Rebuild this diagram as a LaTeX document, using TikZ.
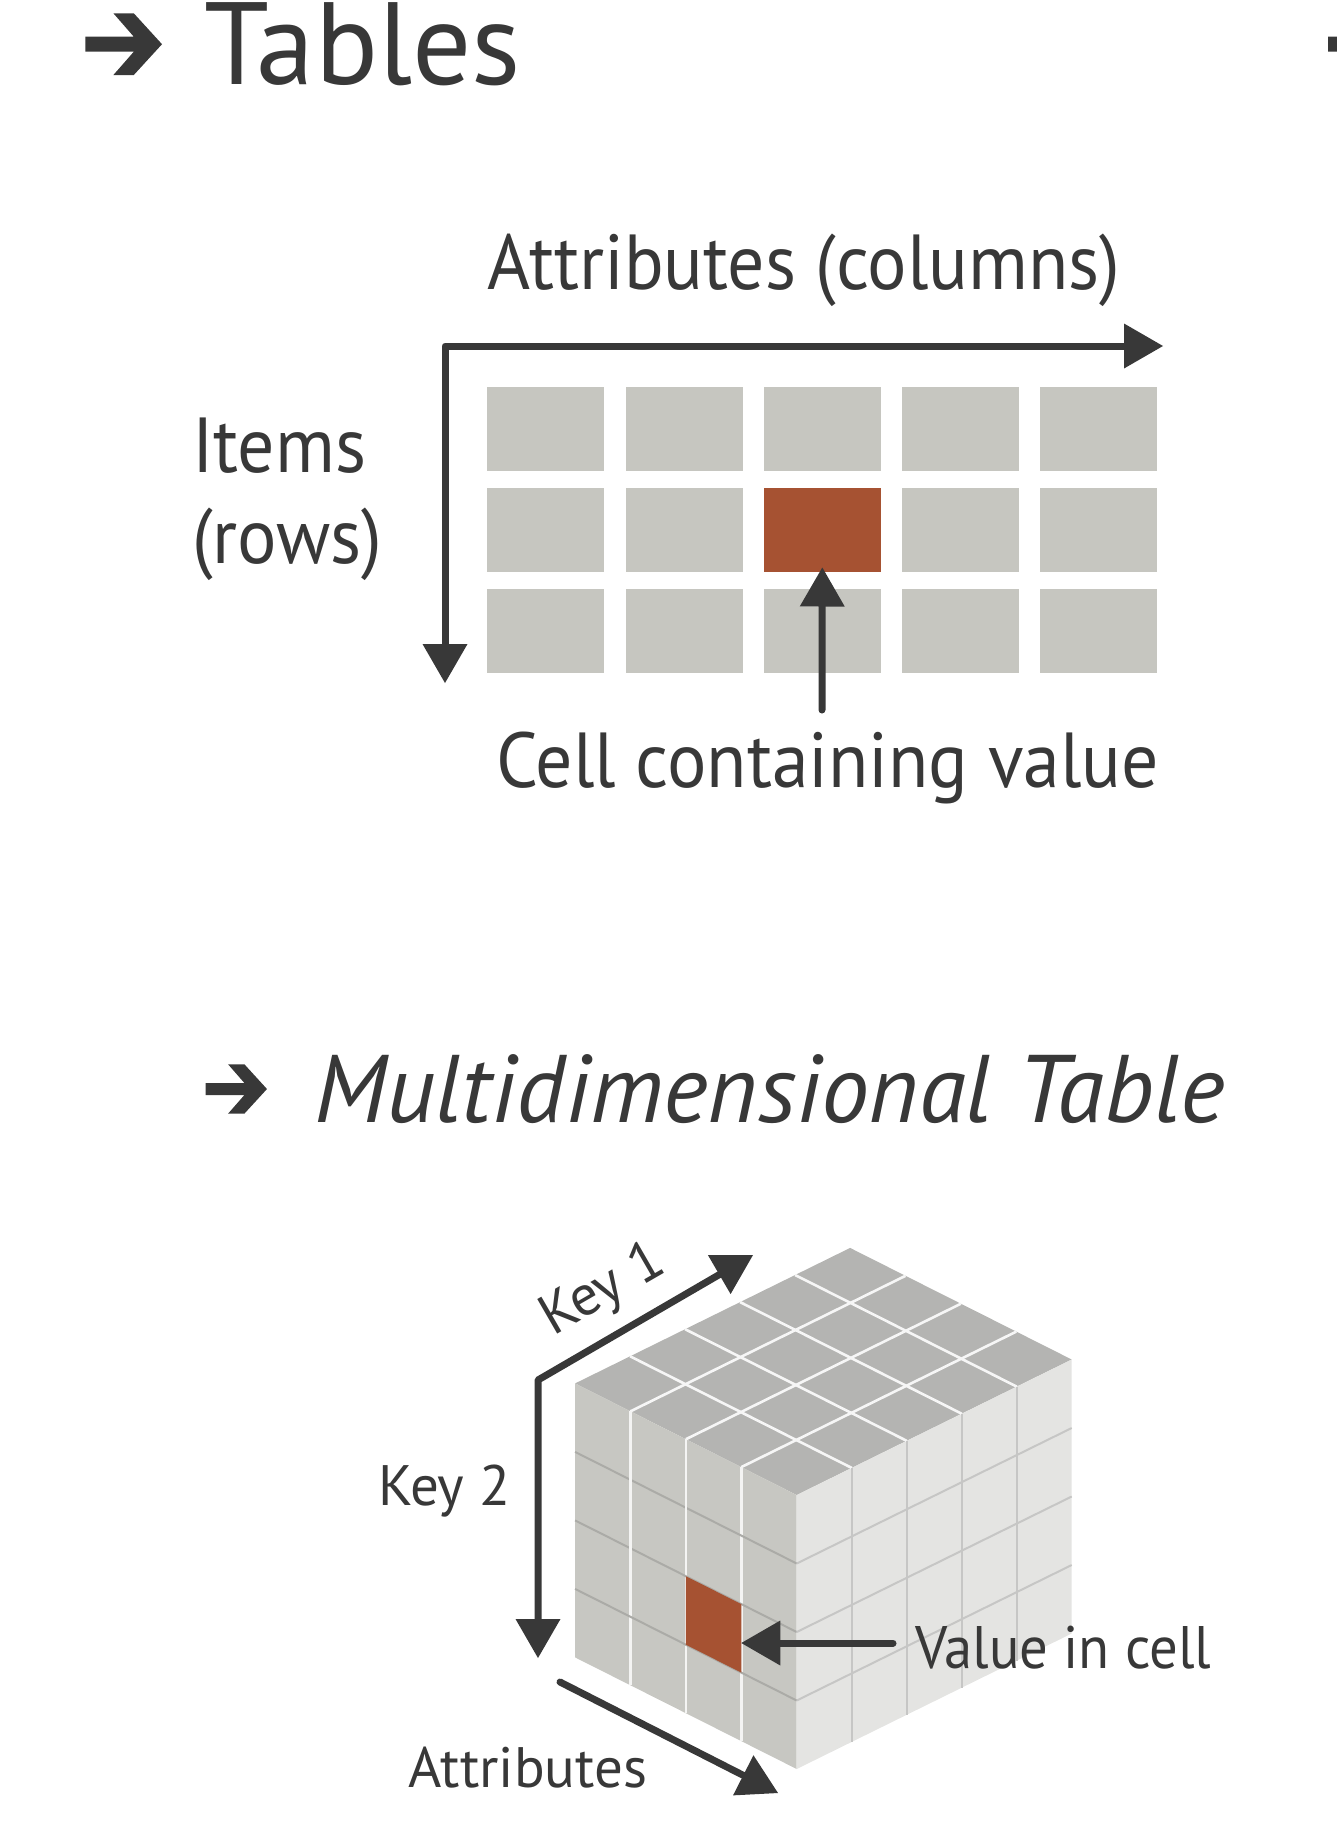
\documentclass[tikz,border=0pt]{standalone}
\usepackage{fontspec}
\setmainfont{PT Sans}
\newfontfamily\labelfont{PT Sans}[FakeStretch=0.945]
\usetikzlibrary{arrows.meta,matrix,positioning}
\definecolor{ink}{HTML}{383838}
\definecolor{cellgray}{HTML}{C6C6C0}
\definecolor{cellred}{HTML}{A65232}
\definecolor{cubetop}{HTML}{B4B4B2}
\definecolor{cubeleft}{HTML}{C7C7C2}
\definecolor{cuberight}{HTML}{E4E4E2}

\tikzset{
   bullet arrow/.pic={
      \fill[ink] (0,-7.5) -- (48.5,-7.5) -- (28.1,-30.9) -- (48.5,-30.9) -- (76.7,0)
         -- (48.5,30.8) -- (28.1,30.8) -- (48.5,7.5) -- (0,7.5) -- cycle;
   }
}

\begin{document}
\begin{tikzpicture}[
      x=1pt, y=-1pt,
      heading/.style={
         anchor=base west, inner sep=0pt, text=ink,
         font=\fontsize{117}{117}\selectfont
      },
      subheading/.style={
         anchor=base west, inner sep=0pt, text=ink,
         font=\fontsize{96}{96}\selectfont\itshape
      },
      label/.style={
         anchor=base west, inner sep=0pt, text=ink,
         font=\labelfont\fontsize{78}{78}\selectfont
      },
      small label/.style={
         anchor=base west, inner sep=0pt, text=ink,
         font=\fontsize{57}{57}\selectfont
      },
      cell/.style={
         rectangle, inner sep=0pt,
         minimum width=117pt, minimum height=84pt,
         fill=cellgray
      },
      hot cell/.style={cell, fill=cellred},
      point/.style={coordinate},
      axis/.style={line width=7pt, draw=ink, line cap=round, line join=round},
      tip/.style={-{Triangle[length=39pt,width=45pt,line width=0pt]}},
      both tips/.style={{Triangle[length=39pt,width=45pt,line width=0pt]}-{Triangle[length=39pt,width=45pt,line width=0pt]}},
      top sep/.style={draw=white!88!cubetop, line width=2.6pt},
      left sep/.style={draw=white!80!cubeleft, line width=2.6pt},
      left rule/.style={draw=black!14!cubeleft, line width=2pt},
      right sep/.style={draw=black!13!cuberight, line width=2pt}
    ]
    \useasboundingbox (0,0) rectangle (1337,1826);

    \pic (bul1) at (85.3,44.2) {bullet arrow};
    \pic (bul1b) at (1328,44.2) {bullet arrow};
    \node (tables) [heading] at (204,84) {Tables};

    \matrix (tbl) [anchor=north west, inner sep=0pt, column sep=21.3pt, row sep=16.7pt] at (487,387) {
\node (c11) [cell] {}; & \node (c12) [cell] {}; & \node (c13) [cell] {}; & \node (c14) [cell] {}; & \node (c15) [cell] {};\\
\node (c21) [cell] {}; & \node (c22) [cell] {}; & \node (c23) [hot cell] {}; & \node (c24) [cell] {}; & \node (c25) [cell] {};\\
\node (c31) [cell] {}; & \node (c32) [cell] {}; & \node (c33) [cell] {}; & \node (c34) [cell] {}; & \node (c35) [cell] {};\\
    };

    \node (attrcols) [label] at (487,289) {Attributes (columns)};
    \node (items) [label] at (192,472) {Items};
    \node (rows) [label] at ([yshift=-91pt]items.base west) {(rows)};
    \node (cellval) [label] at (496,787) {Cell containing value};

    \coordinate (tblcorner) at (445,346);
    \coordinate (rowtip) at (445,683);
    \coordinate (coltip) at (1163,346);
    \coordinate (celltail) at (822,710);
    \draw[axis, both tips] (rowtip) -- (tblcorner) -- (coltip);
    \draw[axis, tip, shorten >=-5pt] (celltail) -- (c23.south);

    \pic[scale=0.8] (bul2) at (205.6,1089) {bullet arrow};
    \node (multi) [subheading] at (314,1122) {Multidimensional Table};

    \begin{scope}[shift={(796.7,1495)}, x={(-55.4pt,27.9pt)}, y={(55pt,27.1pt)}, z={(0pt,-68.5pt)}]
      \fill[cubetop] (0,0,0) -- (4,0,0) -- (4,5,0) -- (0,5,0) -- cycle;
      \fill[cubeleft] (0,0,0) -- (4,0,0) -- (4,0,4) -- (0,0,4) -- cycle;
      \fill[cuberight] (0,0,0) -- (0,5,0) -- (0,5,4) -- (0,0,4) -- cycle;
      \foreach \i in {1,2,3} {
         \draw[top sep] (\i,0,0) -- (\i,5,0);
         \draw[left sep] (\i,0,0) -- (\i,0,4);
         \draw[left rule] (0,0,\i) -- (4,0,\i);
         \draw[right sep] (0,0,\i) -- (0,5,\i);
      }
      \foreach \k in {1,...,4} {
         \draw[top sep] (0,\k,0) -- (4,\k,0);
         \draw[right sep] (0,\k,0) -- (0,\k,4);
      }
      \fill[cellred] (1,0,2) -- (2,0,2) -- (2,0,3) -- (1,0,3) -- cycle;
      \coordinate (redcell) at (1,0,2.5);
    \end{scope}

    \coordinate (keycorner) at (538,1380);
    \coordinate (key1tip) at (753,1255);
    \coordinate (key2tip) at (538,1658);
    \coordinate (attrtail) at (560,1682);
    \coordinate (attrtip) at (778,1793);
    \coordinate (valtail) at (893,1643);
    \draw[axis, both tips] (key2tip) -- (keycorner) -- (key1tip);
    \draw[axis, tip] (attrtail) -- (attrtip);
    \draw[axis, tip] (valtail) -- (valtail -| redcell);

    \node (key1) [small label, rotate=30] at (553,1337) {Key 1};
    \node (key2) [small label] at (378,1505) {Key 2};
    \node (valcell) [small label, font=\labelfont\fontsize{60}{60}\selectfont] at (915,1668) {Value in cell};
    \node (attrs) [small label] at (408,1787) {Attributes};
\end{tikzpicture}
\end{document}
